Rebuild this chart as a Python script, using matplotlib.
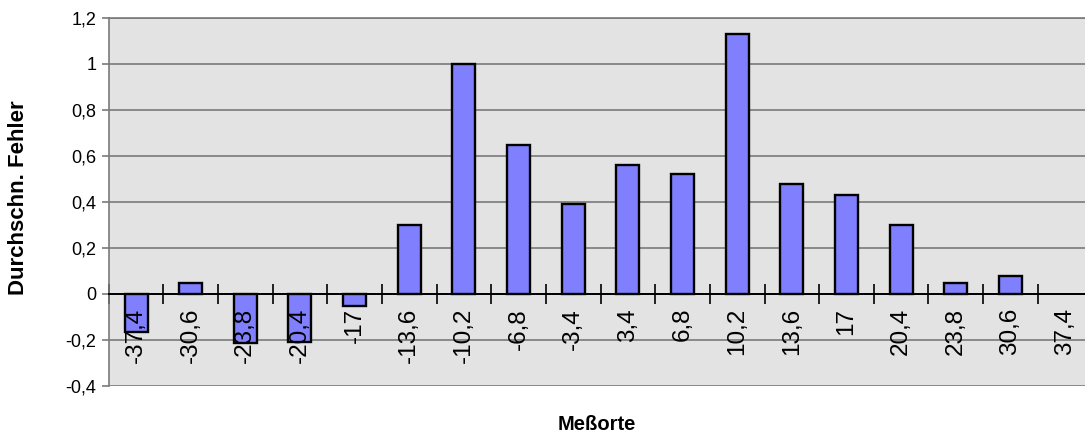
import numpy as np
import matplotlib
matplotlib.use("Agg")
import matplotlib.pyplot as plt

# Meßorte (category labels) and average error per location
orte = ["-37,4", "-30,6", "-23,8", "-20,4", "-17", "-13,6", "-10,2", "-6,8", "-3,4",
        "3,4", "6,8", "10,2", "13,6", "17", "20,4", "23,8", "30,6", "37,4"]
fehler = [-0.165, 0.05, -0.215, -0.21, -0.05, 0.30, 1.00, 0.65, 0.39,
          0.56, 0.52, 1.13, 0.48, 0.43, 0.30, 0.05, 0.08, np.nan]
y_ticks = [-0.4, -0.2, 0, 0.2, 0.4, 0.6, 0.8, 1, 1.2]
y_labels = ["-0,4", "-0,2", "0", "0,2", "0,4", "0,6", "0,8", "1", "1,2"]

plt.rcParams["font.family"] = ["Liberation Sans", "DejaVu Sans"]

fig = plt.figure(figsize=(10.85, 4.41), dpi=100)
# plot area runs slightly past the right edge of the picture (cropped chart)
ax = fig.add_axes([108.7 / 1085, 1 - 386 / 441, 983.7 / 1085, (386 - 18) / 441])
ax.set_facecolor("#e3e3e3")

x = np.arange(len(orte))
ax.bar(x, fehler, width=0.42, color="#8080ff", edgecolor="black", linewidth=1.7, zorder=1)

ax.set_xlim(-0.5, len(orte) - 0.5)
ax.set_ylim(-0.4, 1.2)

# horizontal grid lines
for yt in y_ticks:
    ax.axhline(yt, color="#7a7a7a", linewidth=1.2, zorder=0.5)

ax.set_yticks(y_ticks)
ax.set_yticklabels(y_labels, fontsize=13)
ax.tick_params(axis="y", direction="out", length=5, width=1.2, color="#7a7a7a", pad=4)

# category axis sits on zero
ax.spines["bottom"].set_position(("data", 0))
ax.spines["bottom"].set_color("black")
ax.spines["bottom"].set_linewidth(1.4)
for s in ["left", "top", "right"]:
    ax.spines[s].set_color("#7a7a7a")
    ax.spines[s].set_linewidth(1.2)

ax.set_xticks(np.arange(-0.5, len(orte), 1))
ax.set_xticklabels([])
ax.tick_params(axis="x", which="major", direction="inout", length=14, width=1.2, color="black")
ax.set_xticks(x, minor=True)
ax.set_xticklabels(orte, minor=True, rotation=90, fontsize=17.5)
ax.tick_params(axis="x", which="minor", length=0, pad=10)
for lbl in ax.get_xticklabels(minor=True):
    lbl.set_verticalalignment("top")

fig.text(19 / 1085, 1 - 198 / 441, "Durchschn. Fehler", rotation=90, fontsize=16,
         fontweight="bold", ha="center", va="center")
fig.text(597 / 1085, 1 - 424 / 441, "Meßorte", fontsize=14.5, fontweight="bold",
         ha="center", va="center")

fig.savefig("out.png", dpi=100)
